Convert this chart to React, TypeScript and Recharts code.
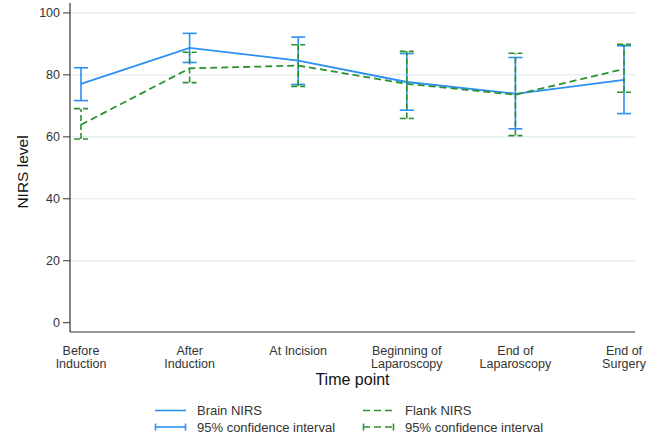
import React from 'react';
import { LineChart, Line, ErrorBar, XAxis, YAxis, CartesianGrid, Legend, Label } from 'recharts';

const timePoints = [
  'Before\nInduction',
  'After\nInduction',
  'At Incision',
  'Beginning of\nLaparoscopy',
  'End of\nLaparoscopy',
  'End of\nSurgery',
];

const brainMean = [77.1, 88.7, 84.6, 77.7, 73.9, 78.4];
const brainLow = [71.7, 84.0, 76.9, 68.6, 62.6, 67.5];
const brainHigh = [82.3, 93.4, 92.2, 86.9, 85.6, 89.4];

const flankMean = [63.9, 82.1, 83.0, 77.1, 73.6, 81.9];
const flankLow = [59.3, 77.5, 76.3, 65.9, 60.4, 74.4];
const flankHigh = [69.1, 87.3, 89.7, 87.6, 87.0, 89.9];

const yTicks = [0, 20, 40, 60, 80, 100];

const BLUE = '#2b8ff5';
const GREEN = '#2a9330';
const TEXT = '#333333';
const FONT = '"Liberation Sans", Arial, sans-serif';

const data = timePoints.map((label, i) => ({
  label,
  brain: brainMean[i],
  brainErr: [brainMean[i] - brainLow[i], brainHigh[i] - brainMean[i]],
  flank: flankMean[i],
  flankErr: [flankMean[i] - flankLow[i], flankHigh[i] - flankMean[i]],
}));

function TimeTick({ x, y, payload }: any) {
  const lines = String(payload.value).split('\n');
  return (
    <text x={x} y={y} textAnchor="middle" fill={TEXT} fontSize={12.5} fontFamily={FONT}>
      {lines.map((line, i) => (
        <tspan key={i} x={x} dy={i === 0 ? 23 : 12.8}>
          {line}
        </tspan>
      ))}
    </text>
  );
}

function LegendBox() {
  const rowText = { position: 'absolute' as const, fontSize: 13, color: TEXT, fontFamily: FONT, lineHeight: '15px' };
  return (
    <div style={{ position: 'relative', width: 646, height: 40 }}>
      <svg width={646} height={40} style={{ position: 'absolute', left: 0, top: 0 }}>
        <line x1={155} x2={186} y1={15.5} y2={15.5} stroke={BLUE} strokeWidth={1.6} />
        <line x1={155} x2={186} y1={32} y2={32} stroke={BLUE} strokeWidth={1.6} />
        <line x1={155.5} x2={155.5} y1={28.5} y2={35.5} stroke={BLUE} strokeWidth={1.6} />
        <line x1={185.5} x2={185.5} y1={28.5} y2={35.5} stroke={BLUE} strokeWidth={1.6} />
        <line x1={363} x2={394} y1={15.5} y2={15.5} stroke={GREEN} strokeWidth={1.6} strokeDasharray="7 4" />
        <line x1={363} x2={394} y1={32} y2={32} stroke={GREEN} strokeWidth={1.6} strokeDasharray="7 4" />
        <line x1={363.5} x2={363.5} y1={28.5} y2={35.5} stroke={GREEN} strokeWidth={1.6} />
        <line x1={393.5} x2={393.5} y1={28.5} y2={35.5} stroke={GREEN} strokeWidth={1.6} />
      </svg>
      <span style={{ ...rowText, left: 197, top: 8 }}>Brain NIRS</span>
      <span style={{ ...rowText, left: 197, top: 24.5 }}>95% confidence interval</span>
      <span style={{ ...rowText, left: 405, top: 8 }}>Flank NIRS</span>
      <span style={{ ...rowText, left: 405, top: 24.5 }}>95% confidence interval</span>
    </div>
  );
}

export default function App() {
  return (
    <div style={{ position: 'absolute', left: 0, top: 0, width: 646, height: 435, background: '#fff' }}>
      <LineChart width={646} height={435} data={data} margin={{ top: 3, right: 11, left: 0, bottom: 0 }}>
        <CartesianGrid
          vertical={false}
          horizontalValues={[20, 40, 60, 80, 100]}
          stroke="#e6eff1"
          strokeWidth={1.5}
        />
        <XAxis
          dataKey="label"
          interval={0}
          padding={{ left: 11, right: 11 }}
          tickLine={false}
          tickSize={0}
          tickMargin={0}
          height={63}
          axisLine={{ stroke: TEXT, strokeWidth: 1.2 }}
          tick={<TimeTick />}
        >
          <Label
            content={() => (
              <text x={352.5} y={385} textAnchor="middle" fill="#111" fontSize={16} fontFamily={FONT}>
                Time point
              </text>
            )}
          />
        </XAxis>
        <YAxis
          width={70}
          domain={[-3, 103.2]}
          ticks={yTicks}
          interval={0}
          tickSize={7}
          tickMargin={3}
          axisLine={{ stroke: TEXT, strokeWidth: 1.2 }}
          tickLine={{ stroke: TEXT }}
          tick={{ fill: TEXT, fontSize: 12.5, fontFamily: FONT }}
        >
          <Label
            content={() => (
              <text
                transform="translate(27.5,172) rotate(-90)"
                textAnchor="middle"
                fill="#111"
                fontSize={15.5}
                fontFamily={FONT}
              >
                NIRS level
              </text>
            )}
          />
        </YAxis>
        <Legend verticalAlign="bottom" wrapperStyle={{ left: 0, width: 646 }} content={() => <LegendBox />} />
        <Line
          type="linear"
          dataKey="brain"
          stroke={BLUE}
          strokeWidth={1.8}
          dot={false}
          activeDot={false}
          isAnimationActive={false}
        >
          <ErrorBar dataKey="brainErr" width={7} stroke={BLUE} strokeWidth={1.6} isAnimationActive={false} />
        </Line>
        <Line
          type="linear"
          dataKey="flank"
          stroke={GREEN}
          strokeWidth={1.8}
          strokeDasharray="7 4"
          dot={false}
          activeDot={false}
          isAnimationActive={false}
        >
          <ErrorBar
            dataKey="flankErr"
            width={7}
            stroke={GREEN}
            strokeWidth={1.6}
            strokeDasharray="6 3"
            isAnimationActive={false}
          />
        </Line>
      </LineChart>
    </div>
  );
}
